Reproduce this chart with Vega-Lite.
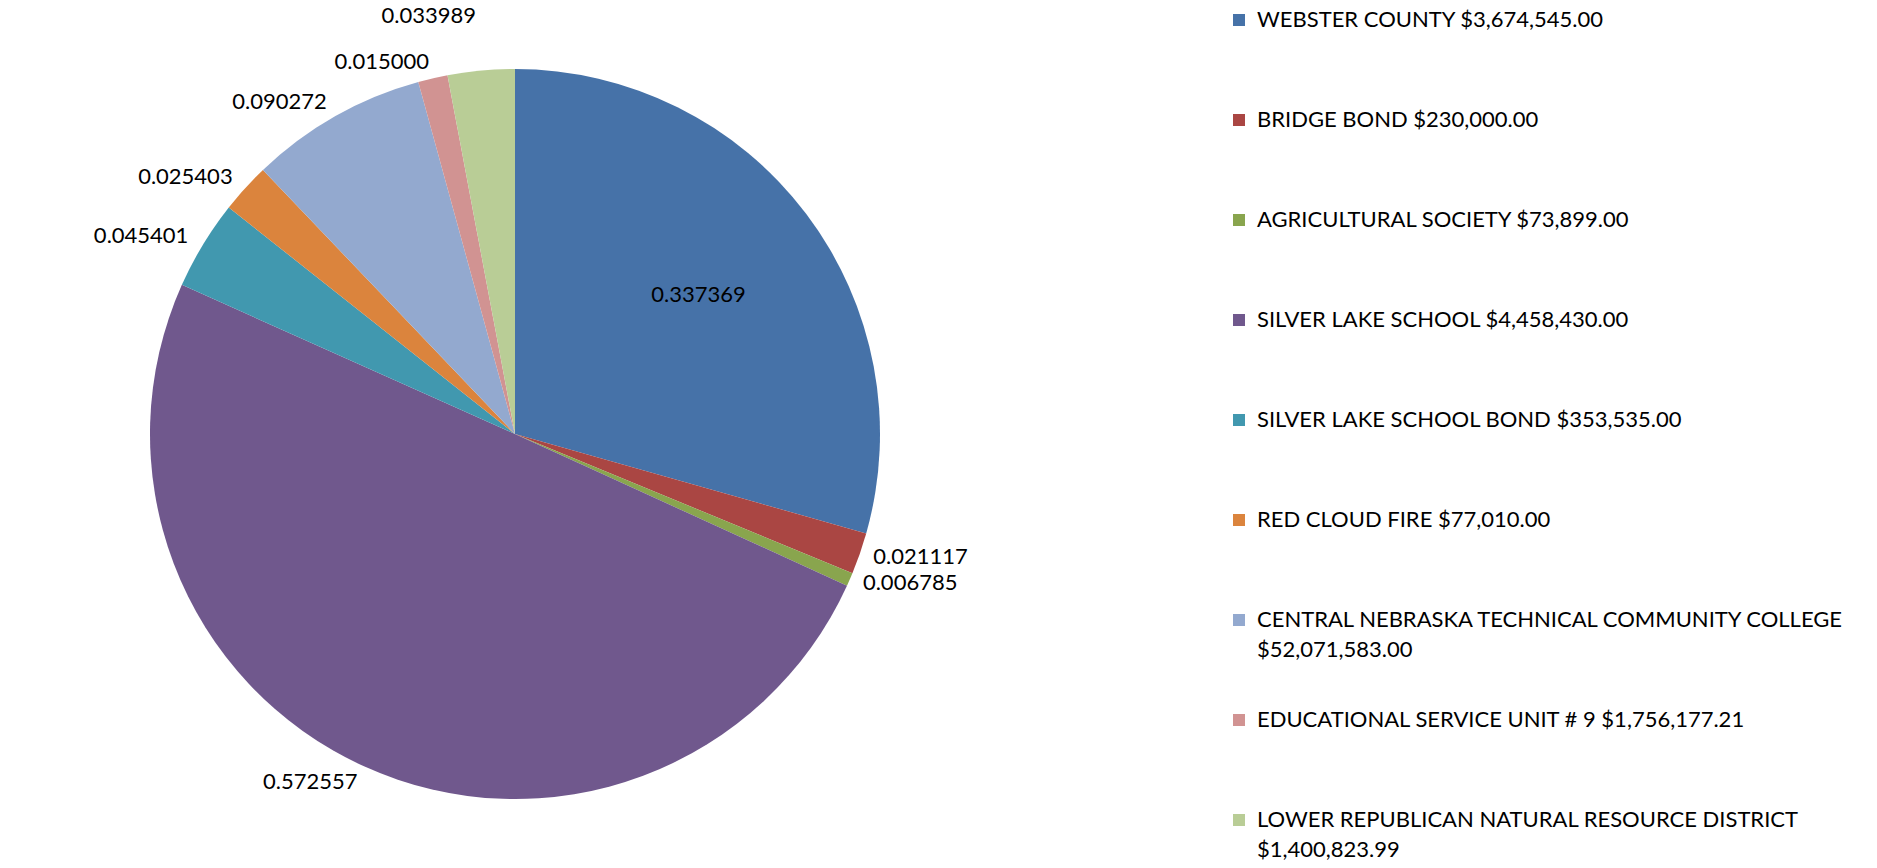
{
  "$schema": "https://vega.github.io/schema/vega-lite/v6.json",
  "width": 1030,
  "height": 868,
  "padding": 0,
  "background": "white",
  "config": {"style": {"guide-label": {"lineHeight": 30}}, "view": {"stroke": null}},
  "data": {
    "values": [
      {"n": 1, "label": "WEBSTER COUNTY $3,674,545.00", "share": 0.337369, "txt": "0.337369"},
      {"n": 2, "label": "BRIDGE BOND $230,000.00", "share": 0.021117, "txt": "0.021117"},
      {"n": 3, "label": "AGRICULTURAL SOCIETY $73,899.00", "share": 0.006785, "txt": "0.006785"},
      {"n": 4, "label": "SILVER LAKE SCHOOL $4,458,430.00", "share": 0.572557, "txt": "0.572557"},
      {"n": 5, "label": "SILVER LAKE SCHOOL BOND $353,535.00", "share": 0.045401, "txt": "0.045401"},
      {"n": 6, "label": "RED CLOUD FIRE $77,010.00", "share": 0.025403, "txt": "0.025403"},
      {"n": 7, "label": "CENTRAL NEBRASKA TECHNICAL COMMUNITY COLLEGE $52,071,583.00", "share": 0.090272, "txt": "0.090272"},
      {"n": 8, "label": "EDUCATIONAL SERVICE UNIT # 9 $1,756,177.21", "share": 0.015, "txt": "0.015000"},
      {"n": 9, "label": "LOWER REPUBLICAN NATURAL RESOURCE DISTRICT $1,400,823.99", "share": 0.033989, "txt": "0.033989"}
    ]
  },
  "encoding": {
    "theta": {"field": "share", "type": "quantitative", "stack": true},
    "order": {"field": "n", "type": "quantitative"},
    "color": {
      "field": "label",
      "type": "nominal",
      "sort": null,
      "scale": {"range": ["#4672A8", "#AA4643", "#89A54E", "#70588D", "#4198AF", "#DB843D", "#93A9CF", "#D19392", "#B9CD96"]},
      "legend": {
        "title": null,
        "orient": "right",
        "offset": 189,
        "padding": 9,
        "symbolType": "square",
        "symbolSize": 144,
        "symbolStrokeWidth": 0,
        "labelFont": "Lato",
        "labelFontSize": 22,
        "labelColor": "#000000",
        "labelOffset": 7,
        "labelLimit": 900,
        "rowPadding": 48,
        "labelExpr": "length(datum.label) > 50 ? [slice(datum.label, 0, indexof(datum.label, ' $')), slice(datum.label, indexof(datum.label, ' $') + 1)] : [datum.label, '']"
      }
    }
  },
  "layer": [
    {"mark": {"type": "arc", "outerRadius": 365}},
    {
      "mark": {"type": "text", "radius": 230, "font": "Lato", "fontSize": 22, "color": "#000000"},
      "encoding": {
        "text": {"field": "txt"},
        "color": {"value": "#000000"},
        "opacity": {"condition": {"test": "datum.n == 1", "value": 1}, "value": 0}
      }
    },
    {
      "mark": {"type": "text", "radius": 375, "align": "left", "dx": 4, "font": "Lato", "fontSize": 22, "color": "#000000"},
      "encoding": {
        "text": {"field": "txt"},
        "color": {"value": "#000000"},
        "opacity": {"condition": {"test": "datum.n == 2 || datum.n == 3", "value": 1}, "value": 0}
      }
    },
    {
      "mark": {"type": "text", "radius": 382, "align": "right", "font": "Lato", "fontSize": 22, "color": "#000000"},
      "encoding": {
        "text": {"field": "txt"},
        "color": {"value": "#000000"},
        "opacity": {"condition": {"test": "datum.n >= 4 && datum.n <= 8", "value": 1}, "value": 0}
      }
    },
    {
      "mark": {"type": "text", "radius": 420, "align": "right", "font": "Lato", "fontSize": 22, "color": "#000000"},
      "encoding": {
        "text": {"field": "txt"},
        "color": {"value": "#000000"},
        "opacity": {"condition": {"test": "datum.n == 9", "value": 1}, "value": 0}
      }
    }
  ]
}
